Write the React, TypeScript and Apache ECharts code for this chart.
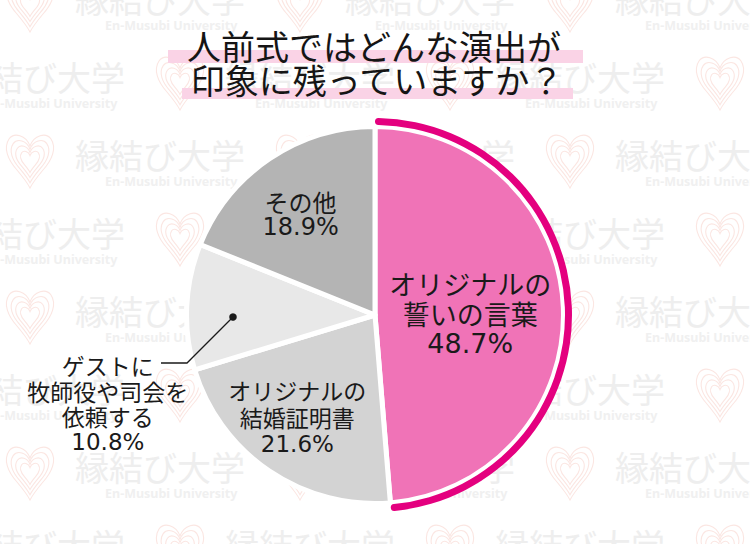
import React, { useEffect, useRef } from "react";
import * as echarts from "echarts";

const CATEGORIES = [
  "オリジナルの\n誓いの言葉",
  "オリジナルの\n結婚証明書",
  "ゲストに\n牧師役や司会を\n依頼する",
  "その他",
];
const VALUES = [48.7, 21.6, 10.8, 18.9];
const COLORS = ["#f073b7", "#d3d3d3", "#e8e8e8", "#b4b4b4"];
const TITLE_LINES = ["人前式ではどんな演出が", "印象に残っていますか？"];
const WATERMARK_JA = "縁結び大学";
const WATERMARK_EN = "En-Musubi University";

const JA_FONT = "'Noto Sans CJK JP', 'Noto Sans', sans-serif";
const NUM_FONT = "'DejaVu Sans', sans-serif";

const HEART_D =
  "M25 16 C21 5 9 2 4 9 C-2 18 3 30 12 40 C17 46 22 52 25 58 C28 52 33 46 38 40 C47 30 52 18 46 9 C41 2 29 5 25 16 Z";

let heartRegistered = false;
function ensureHeart() {
  if (heartRegistered) return;
  echarts.graphic.registerShape("wmheart", (echarts.graphic as any).extendPath(HEART_D, {}));
  heartRegistered = true;
}

function buildWatermark() {
  const els: any[] = [];
  for (let j = 0; j < 8; j++) {
    const cy = -2 + 78 * j;
    const base = j % 2 === 0 ? 5 : 155;
    for (let k = -1; k < 3; k++) {
      const hx = base + 270 * k;
      els.push({
        type: "text",
        x: hx + 70,
        y: cy,
        z: 0,
        silent: true,
        style: {
          text: WATERMARK_JA,
          fontSize: 34,
          fontFamily: JA_FONT,
          fill: "#eeeeee",
          textAlign: "left",
          textVerticalAlign: "middle",
        },
      });
      els.push({
        type: "text",
        x: hx + 100,
        y: cy + 27,
        z: 0,
        silent: true,
        style: {
          text: WATERMARK_EN,
          fontSize: 12.5,
          fontWeight: "bold",
          fontFamily: "'Noto Sans', sans-serif",
          fill: "#f0f0f0",
          textAlign: "left",
          textVerticalAlign: "middle",
        },
      });
      [1, 0.8, 0.6, 0.4].forEach((s) => {
        els.push({
          type: "wmheart",
          x: hx + 25 * (1 - s),
          y: cy - 24 + 32 * (1 - s),
          scaleX: s,
          scaleY: s,
          z: 0,
          silent: true,
          style: { fill: "none", stroke: "#fbe6e2", lineWidth: 1.1 / s },
        });
      });
    }
  }
  return els;
}

const CX = 375;
const CY = 315;
const R = 188.5;

const LABEL_SIZE = [27, 23, 23, 24];
const LABEL_LH = [30, 27, 25.5, 25];
const LABEL_SHIFT = [
  [-2, 2],
  [-23, 22],
  [-170, 93],
  [-20, -20],
];

export default function App() {
  const ref = useRef<HTMLDivElement>(null);
  useEffect(() => {
    if (!ref.current) return;
    ensureHeart();
    const chart = echarts.init(ref.current, undefined, { renderer: "svg" });

    const pieData = CATEGORIES.map((name, i) => ({
      name,
      value: VALUES[i],
      itemStyle: { color: COLORS[i] },
      label: {
        fontSize: LABEL_SIZE[i],
        lineHeight: LABEL_LH[i],
        rich: {
          p: {
            fontFamily: NUM_FONT,
            fontSize: LABEL_SIZE[i],
            lineHeight: LABEL_LH[i],
            color: "#1a1a1a",
          },
        },
      },
    }));

    const arcData = CATEGORIES.map((name, i) => ({
      name,
      value: VALUES[i],
      itemStyle: { color: i === 0 ? "#e4007f" : "rgba(0,0,0,0)" },
    }));

    const option: any = {
      animation: false,
      backgroundColor: "#ffffff",
      graphic: {
        elements: [
          ...buildWatermark(),
          {
            type: "rect",
            z: 50,
            shape: { x: 168, y: 50, width: 415, height: 13 },
            style: { fill: "#fad3e6" },
          },
          {
            type: "rect",
            z: 50,
            shape: { x: 182, y: 88, width: 391, height: 11 },
            style: { fill: "#fad3e6" },
          },
          {
            type: "text",
            z: 60,
            x: 374,
            y: 45,
            style: {
              text: TITLE_LINES[0],
              fontSize: 34,
              fontFamily: JA_FONT,
              fill: "#151515",
              textAlign: "center",
              textVerticalAlign: "middle",
            },
          },
          {
            type: "text",
            z: 60,
            x: 377,
            y: 79,
            style: {
              text: TITLE_LINES[1],
              fontSize: 34,
              fontFamily: JA_FONT,
              fill: "#151515",
              textAlign: "center",
              textVerticalAlign: "middle",
            },
          },
          {
            type: "polyline",
            z: 60,
            shape: {
              points: [
                [233, 317],
                [187, 363],
                [161, 363],
              ],
            },
            style: { stroke: "#1a1a1a", lineWidth: 1.3, fill: "none" },
          },
          {
            type: "circle",
            z: 60,
            shape: { cx: 233, cy: 317, r: 3.8 },
            style: { fill: "#1a1a1a" },
          },
        ],
      },
      series: [
        {
          type: "pie",
          center: [CX, CY],
          radius: R,
          startAngle: 90,
          clockwise: true,
          avoidLabelOverlap: false,
          silent: true,
          z: 2,
          itemStyle: { borderColor: "#ffffff", borderWidth: 5 },
          label: {
            show: true,
            position: "inside",
            color: "#1a1a1a",
            fontFamily: JA_FONT,
            align: "center",
            formatter: (p: any) => `${p.name}\n{p|${p.value}%}`,
          },
          labelLine: { show: false },
          labelLayout: (p: any) => {
            const s = LABEL_SHIFT[p.dataIndex];
            return { dx: s[0], dy: s[1] };
          },
          emphasis: { disabled: true },
          data: pieData,
        },
        {
          type: "pie",
          center: [CX, CY],
          radius: [190, 197],
          startAngle: 90,
          clockwise: true,
          silent: true,
          z: 2,
          itemStyle: { borderWidth: 0, borderRadius: 3.5 },
          label: { show: false },
          labelLine: { show: false },
          emphasis: { disabled: true },
          data: arcData,
        },
      ],
    };
    chart.setOption(option);
    return () => chart.dispose();
  }, []);

  return (
    <div
      ref={ref}
      style={{ position: "fixed", left: 0, top: 0, width: 750, height: 544, background: "#fff" }}
    />
  );
}
